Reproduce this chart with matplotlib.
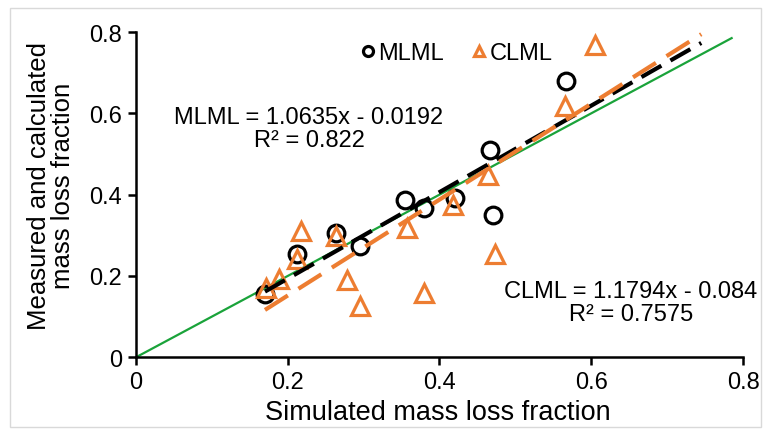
import matplotlib
matplotlib.use("Agg")
import matplotlib.pyplot as plt
from matplotlib.patches import Rectangle

plt.rcParams["font.family"] = ["Liberation Sans", "DejaVu Sans"]

# simulated vs measured (MLML) and calculated (CLML) mass loss fraction
mlml_x = [0.170, 0.212, 0.264, 0.295, 0.354, 0.379, 0.420, 0.466, 0.471, 0.567]
mlml_y = [0.155, 0.253, 0.306, 0.273, 0.388, 0.367, 0.392, 0.510, 0.351, 0.679]

clml_x = [0.172, 0.188, 0.212, 0.218, 0.264, 0.278, 0.295, 0.357, 0.379,
          0.418, 0.464, 0.473, 0.565, 0.605]
clml_y = [0.171, 0.192, 0.241, 0.310, 0.298, 0.191, 0.126, 0.318, 0.159,
          0.375, 0.449, 0.253, 0.617, 0.768]

# trendline fits (Excel)
mlml_fit = (1.0635, -0.0192)
clml_fit = (1.1794, -0.084)
trend_x = [0.17, 0.745]
one_to_one = [0.0, 0.785]

orange = "#ED7D31"
green = "#1aa33a"

fig = plt.figure(figsize=(7.66, 4.31), dpi=100)
ax = fig.add_axes([0.1775, 0.1687, 0.7925, 0.7547])

ax.plot(one_to_one, one_to_one, color=green, lw=1.6, zorder=2)

ax.plot(mlml_x, mlml_y, "o", ms=12, mfc="none", mec="black", mew=2.3,
        label="MLML", zorder=3)
ax.plot(clml_x, clml_y, "^", ms=13, mfc="none", mec=orange, mew=2.3,
        label="CLML", zorder=3)

ax.plot(trend_x, [mlml_fit[0] * x + mlml_fit[1] for x in trend_x],
        color="black", lw=3, dashes=(5.5, 2.5), zorder=4)
ax.plot(trend_x, [clml_fit[0] * x + clml_fit[1] for x in trend_x],
        color=orange, lw=3, dashes=(6.5, 3), zorder=4)

ax.set_xlim(0, 0.8)
ax.set_ylim(0, 0.8)
ax.set_xticks([0, 0.2, 0.4, 0.6, 0.8])
ax.set_yticks([0, 0.2, 0.4, 0.6, 0.8])
ax.set_xticklabels(["0", "0.2", "0.4", "0.6", "0.8"])
ax.set_yticklabels(["0", "0.2", "0.4", "0.6", "0.8"])
ax.tick_params(labelsize=17, width=1.8, length=6, direction="out", pad=4)
for s in ["top", "right"]:
    ax.spines[s].set_visible(False)
for s in ["left", "bottom"]:
    ax.spines[s].set_linewidth(1.8)

ax.text(0.497, -0.167, "Simulated mass loss fraction", transform=ax.transAxes,
        ha="center", va="center", fontsize=19.5)
ax.text(-0.14, 0.53, "Measured and calculated\nmass loss fraction",
        transform=ax.transAxes, ha="center", va="center", rotation=90,
        fontsize=18.5, multialignment="center", linespacing=1.0)

ax.text(0.228, 0.562, "MLML = 1.0635x - 0.0192\nR² = 0.822", ha="center",
        va="center", fontsize=17, multialignment="center", linespacing=1.05)
ax.text(0.652, 0.134, "CLML = 1.1794x - 0.084\nR² = 0.7575", ha="center",
        va="center", fontsize=17, multialignment="center", linespacing=1.05)

leg = ax.legend(loc="upper left", bbox_to_anchor=(0.335, 1.035), ncol=2,
                frameon=False, fontsize=17, markerscale=0.6,
                handlelength=0.6, handletextpad=0.15, columnspacing=1.2)

fig.patches.append(Rectangle((0.013, 0.008), 0.98, 0.97, transform=fig.transFigure,
                             fill=False, edgecolor="#d9d9d9", lw=1))

fig.savefig("out.png", dpi=100)
